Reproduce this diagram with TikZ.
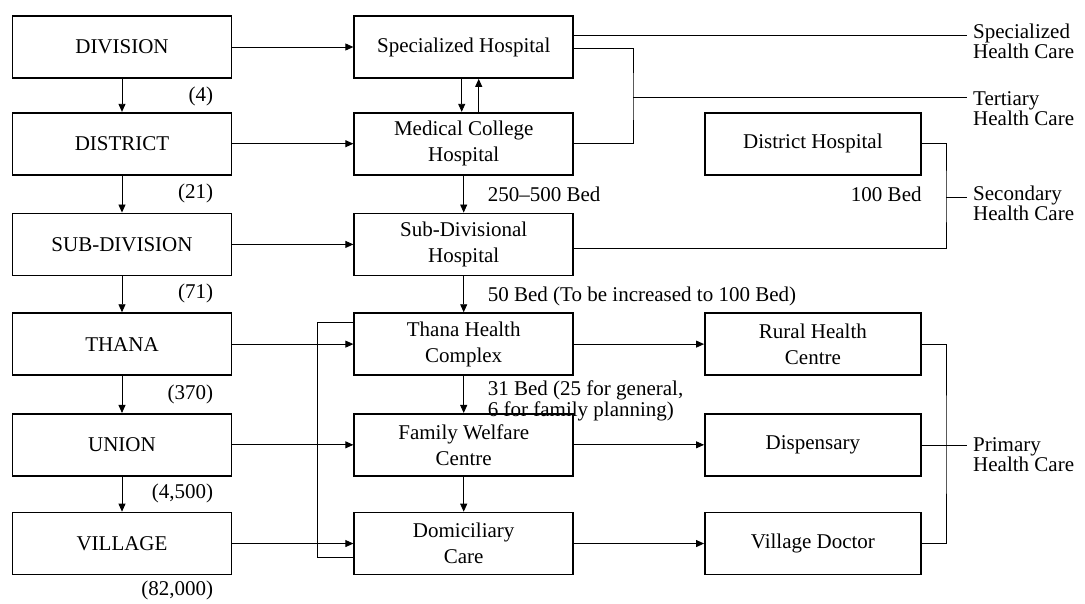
\documentclass[tikz,border=0pt]{standalone}
\usepackage{fontspec}
\setmainfont{Liberation Serif}
\usepackage{tikz}
\usetikzlibrary{positioning,arrows.meta}
\tikzset{caja/.style={draw, line width=0.6mm, minimum width=219pt, minimum height=62pt, align=center, inner sep=2pt, font=\fontsize{21}{26}\selectfont}}
\tikzset{arista/.style={line width=0.3mm}}
\tikzset{flecha/.style={arista, -{Triangle[length=8pt, width=7pt]}}}
\tikzset{rotulo/.style={inner sep=0pt, align=left, font=\fontsize{21}{19}\selectfont}}

\begin{document}
\begin{tikzpicture}[x=1pt, y=-1pt]
            \useasboundingbox (0,0) rectangle (1085,604);
            \node[caja] (division) at (122,47) {DIVISION};
            \node[caja, below=33pt of division] (district) {DISTRICT};
            \node[caja, below=37pt of district] (subdivision) {SUB-DIVISION};
            \node[caja, below=36pt of subdivision] (thana) {THANA};
            \node[caja, below=37pt of thana] (union) {UNION};
            \node[caja, below=35pt of union] (village) {VILLAGE};

            \node[caja, right=121pt of division] (specialized) {Specialized Hospital};
            \node[caja, right=121pt of district] (medical) {Medical College\\Hospital};
            \node[caja, right=121pt of subdivision] (subdivhosp) {Sub-Divisional\\Hospital};
            \node[caja, right=121pt of thana] (thcomplex) {Thana Health\\Complex};
            \node[caja, right=121pt of union] (welfare) {Family Welfare\\Centre};
            \node[caja, right=121pt of village] (domiciliary) {Domiciliary\\Care};

            \node[caja, minimum width=216pt, right=130pt of medical] (dhospital) {District Hospital};
            \node[caja, minimum width=216pt, right=130pt of thcomplex] (rural) {Rural Health\\Centre};
            \node[caja, minimum width=216pt, right=130pt of welfare] (dispensary) {Dispensary};
            \node[caja, minimum width=216pt, right=130pt of domiciliary] (vdoctor) {Village Doctor};

            \node[rotulo, below left=8pt and 19pt of division.south east] (ndivision) {(4)};
            \node[rotulo, below left=8pt and 19pt of district.south east] (ndistrict) {(21)};
            \node[rotulo, below left=7pt and 19pt of subdivision.south east] (nsubdivision) {(71)};
            \node[rotulo, below left=9pt and 19pt of thana.south east] (nthana) {(370)};
            \node[rotulo, below left=7pt and 19pt of union.south east] (nunion) {(4,500)};
            \node[rotulo, below left=5pt and 19pt of village.south east] (nvillage) {(82,000)};

            \node[rotulo, below right=11pt and 24pt of medical.south] (bmedical) {250--500 Bed};
            \node[rotulo, below right=10pt and 24pt of subdivhosp.south] (bsubdiv) {50 Bed (To be increased to 100 Bed)};
            \node[rotulo, below right=5pt and 24pt of thcomplex.south, font=\fontsize{21}{17}\selectfont] (bthana) {31 Bed (25 for general,\\6 for family planning)};
            \node[rotulo, below left=11pt and 0pt of dhospital.south east] (bdistrict) {100 Bed};

            \node[rotulo, anchor=north west] (lspecialized) at (973,24) {Specialized\\Health Care};
            \node[rotulo, anchor=north west] (ltertiary) at (973,91) {Tertiary\\Health Care};
            \node[rotulo, anchor=north west] (lsecondary) at (973,186) {Secondary\\Health Care};
            \node[rotulo, anchor=north west] (lprimary) at (973,437) {Primary\\Health Care};

            \coordinate (espec) at (967,35);
            \coordinate (eter) at (967,97);
            \coordinate (esec) at (967,197);
            \coordinate (epri) at (967,445);
            \coordinate (ter) at (633,97);
            \coordinate (sec) at (946,197);
            \coordinate (pri) at (946,445);
            \coordinate (bus1) at (317,322);
            \coordinate (bus2) at (317,557);

            \draw[flecha] (division) -- (district);
            \draw[flecha] (district) -- (subdivision);
            \draw[flecha] (subdivision) -- (thana);
            \draw[flecha] (thana) -- (union);
            \draw[flecha] (union) -- (village);

            \draw[flecha] (division) -- (specialized);
            \draw[flecha] (district) -- (medical);
            \draw[flecha] (subdivision) -- (subdivhosp);
            \draw[flecha] (thana) -- (thcomplex);
            \draw[flecha] (union) -- (welfare);
            \draw[flecha] (village) -- (domiciliary);
            \draw[arista] (thcomplex.west |- bus1) -- (bus1) -- (bus2) -- (domiciliary.west |- bus2);

            \draw[flecha] ([xshift=-2pt]specialized.south) -- ([xshift=-2pt]medical.north);
            \draw[flecha] ([xshift=15pt]medical.north) -- ([xshift=15pt]specialized.south);
            \draw[flecha] (medical) -- (subdivhosp);
            \draw[flecha] (subdivhosp) -- (thcomplex);
            \draw[flecha] (thcomplex) -- (welfare);
            \draw[flecha] (welfare) -- (domiciliary);

            \draw[flecha] (thcomplex) -- (rural);
            \draw[flecha] (welfare) -- (dispensary);
            \draw[flecha] (domiciliary) -- (vdoctor);

            \draw[arista] (specialized.east |- espec) -- (espec);
            \draw[arista] ([yshift=-1pt]specialized.east) -| (ter) |- (medical.east);
            \draw[arista] (ter) -- (eter);
            \draw[arista] (dhospital.east) -| (sec) |- ([yshift=-4pt]subdivhosp.east);
            \draw[arista] (sec) -- (esec);
            \draw[arista] (rural.east) -| (pri) |- (vdoctor.east);
            \draw[arista] (dispensary.east |- epri) -- (epri);
\end{tikzpicture}
\end{document}
